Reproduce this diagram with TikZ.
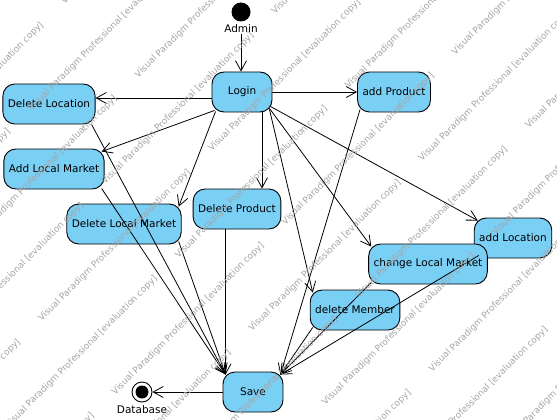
\documentclass[tikz,border=0pt]{standalone}
\usepackage{fontspec}
\setmainfont{DejaVu Sans}
\usetikzlibrary{arrows.meta}
\definecolor{actfill}{RGB}{122,207,245}
\definecolor{wmark}{RGB}{165,165,165}

\begin{document}
\begin{tikzpicture}[x=1pt,y=-1pt,
  action/.style={draw,line width=0.9pt,fill=actfill,rounded corners=12pt,
    minimum width=60pt,minimum height=40pt,inner xsep=5pt,
    font=\fontsize{10.5}{12}\selectfont},
  lbl/.style={inner sep=1pt,font=\fontsize{10.5}{12}\selectfont},
  flow/.style={-{Straight Barb[length=10pt,width=11pt]},line width=0.8pt},
  wm/.style={anchor=base west,rotate=45,inner sep=0pt,text=wmark,
    font=\fontsize{9}{10}\selectfont}]
  \useasboundingbox (0,0) rectangle (557,420);

  % start and end
  \node[circle,fill=black,minimum size=19pt,inner sep=0pt] (start) at (241,12) {};
  \node[lbl] (admin) at (241,29) {Admin};
  \node[circle,draw,line width=0.9pt,minimum size=20pt,inner sep=0pt] (end) at (142,392) {};
  \fill (end) circle (6.5pt);
  \node[lbl] (db) at (142,410) {Database};

  % actions
  \node[action] (Login)   at (242,92)  {Login};
  \node[action] (DelLoc)  at (49,104)  {Delete Location};
  \node[action] (AddLM)   at (54,169)  {Add Local Market};
  \node[action] (DelLM)   at (124,224) {Delete Local Market};
  \node[action] (DelProd) at (237,209) {Delete Product};
  \node[action] (AddProd) at (394,92)  {add Product};
  \node[action] (AddLoc)  at (513,238) {add Location};
  \node[action] (ChgLM)   at (428,264) {change Local Market};
  \node[action] (DelMem)  at (355,310) {delete Member};
  \node[action] (Save)    at (253,392) {Save};

  \coordinate (saveL) at ([shift={(3,3)}]Save.north west);
  \coordinate (saveR) at ([shift={(-3,3)}]Save.north east);

  % out of Login
  \draw[flow] (admin.south) -- (admin.south |- Login.north);
  \draw[flow] ([shift={(0,6)}]Login.west) -- ([shift={(0,-6)}]DelLoc.east);
  \draw[flow] (Login) -- (AddProd);
  \draw[flow] ([shift={(3,-2)}]Login.south west) -- ([shift={(-3,3)}]AddLM.north east);
  \draw[flow] ([shift={(4,-1)}]Login.south west) -- ([shift={(-3,3)}]DelLM.north east);
  \draw[flow] ([shift={(20,0)}]Login.south) -- ([shift={(20,0)}]Login.south |- DelProd.north);
  \draw[flow] ([shift={(-3,-3)}]Login.south east) -- ([shift={(3,3)}]DelMem.north west);
  \draw[flow] ([shift={(-3,-4)}]Login.south east) -- ([shift={(3,3)}]ChgLM.north west);
  \draw[flow] ([shift={(-2,-6)}]Login.south east) -- ([shift={(4,3)}]AddLoc.north west);

  % into Save
  \draw[flow] ([shift={(-4,0)}]DelLoc.south east) -- (saveL);
  \draw[flow] ([shift={(-3,-1)}]AddLM.south east) -- (saveL);
  \draw[flow] ([shift={(-3,-3)}]DelLM.south east) -- (saveL);
  \draw[flow] (DelProd.south -| saveL) -- (saveL);
  \draw[flow] ([shift={(3,-3)}]AddProd.south west) -- (saveR);
  \draw[flow] ([shift={(3,-2)}]ChgLM.south west) -- (saveR);
  \draw[flow] ([shift={(3,-3)}]DelMem.south west) -- (saveR);
  \draw[flow] ([shift={(5,-3)}]AddLoc.south west) -- (saveR);
  \draw[flow] (Save) -- (end);

  % watermark
  \begin{scope}
    \clip (0,0) rectangle (557,420);
    \foreach \k in {-2,...,12}{
      \foreach \m in {-3,...,2}{
        \pgfmathsetmacro\s{143+73.5*\k}
        \pgfmathsetmacro\d{ifthenelse(isodd(\k),60,260)+340*\m}
        \node[wm] at ({(\s+\d)/2},{(\s-\d)/2}) {Visual Paradigm Professional [evaluation copy]};
      }
    }
  \end{scope}
\end{tikzpicture}
\end{document}
